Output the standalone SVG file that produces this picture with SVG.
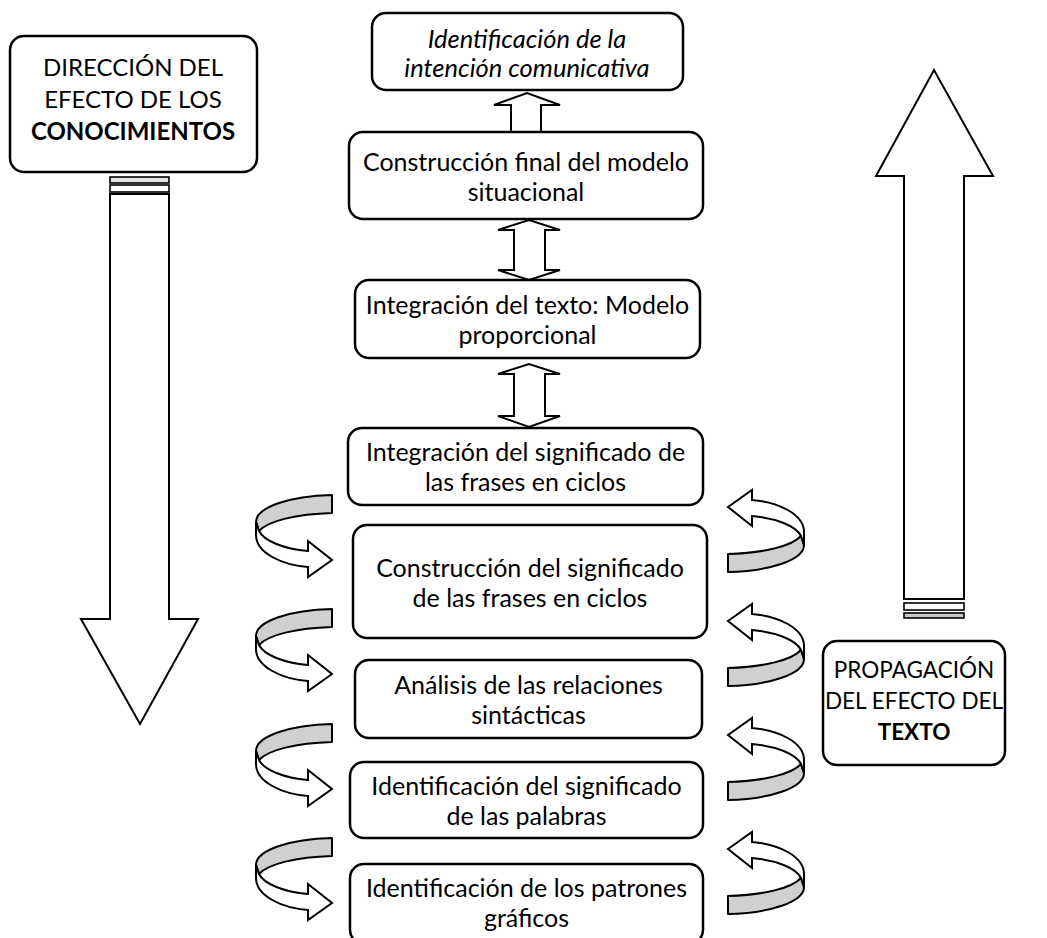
<svg xmlns="http://www.w3.org/2000/svg" width="1047" height="938" viewBox="0 0 1047 938">
<style>
.box{fill:#fff;stroke:#000;stroke-width:2.5}
.t{font-family:Lato,"Open Sans","Liberation Sans",sans-serif;font-size:25px;fill:#000;text-anchor:middle}
.big{font-size:24px}
.sm{font-size:22.5px}
.b{font-weight:bold}
.i{font-style:italic;font-size:25.5px}
.ar{fill:#fff;stroke:#000;stroke-width:2;stroke-linejoin:miter}
.st{fill:#fff;stroke:#000;stroke-width:1.6}
.gr{fill:#d0d0d0;stroke:#000;stroke-width:2;stroke-linejoin:round}
.wr{fill:#fff;stroke:#000;stroke-width:2;stroke-linejoin:miter}
</style>
<defs>
<g id="curl">
<path class="gr" d="M0,0 C-42,1 -76,12 -76,27 L-73,36 C-64,26 -36,19 0,18 Z"/>
<path class="wr" d="M-76,27 L-76,40 C-76,58 -50,70 -24,72 L-24,82 L0,65 L-24,46 L-24,56 C-48,54 -68,46 -73,36 Z"/>
</g>
</defs>
<rect width="1047" height="938" fill="#fff"/>

<g id="connectors">
<path class="ar" d="M511,132 L511,105 L494,105 L527,93 L560,105 L541,105 L541,132 Z"/>
<path class="ar" d="M514,230 L498,230 L529,220 L560,230 L545,230 L545,270 L560,270 L529,280 L498,270 L514,270 Z"/>
<path class="ar" d="M514,374 L498,374 L529,364 L560,374 L545,374 L545,416 L560,416 L529,427 L498,416 L514,416 Z"/>
<use href="#curl" transform="translate(332,495)"/>
<use href="#curl" transform="translate(332,609)"/>
<use href="#curl" transform="translate(332,724)"/>
<use href="#curl" transform="translate(332,838)"/>
<use href="#curl" transform="translate(728,572) rotate(180)"/>
<use href="#curl" transform="translate(728,686) rotate(180)"/>
<use href="#curl" transform="translate(728,800) rotate(180)"/>
<use href="#curl" transform="translate(728,914) rotate(180)"/>
</g>

<g id="direccion">
<rect class="box" x="10" y="36" width="247" height="136" rx="14"/>
<text class="t big" x="133" y="76">DIRECCIÓN DEL</text>
<text class="t big" x="133" y="108">EFECTO DE LOS</text>
<text class="t big b" x="133" y="140">CONOCIMIENTOS</text>
</g>
<g id="flecha-conocimientos">
<rect class="st" x="110" y="177" width="59" height="6" style="fill:#e4e4e4"/>
<rect class="st" x="110" y="185" width="59" height="7"/>
<path class="ar" d="M110,194 L169,194 L169,619 L198,619 L140,724 L81,619 L110,619 Z"/>
</g>

<g id="flecha-texto">
<path class="ar" d="M904,599 L904,176 L876,176 L934,70 L993,176 L964,176 L964,599 Z"/>
<rect class="st" x="904" y="603" width="60" height="7"/>
<rect class="st" x="904" y="613" width="60" height="5" style="fill:#c8c8c8"/>
</g>
<g id="propagacion">
<rect class="box" x="823" y="641" width="182" height="124" rx="14"/>
<text class="t sm" x="914" y="678">PROPAGACIÓN</text>
<text class="t sm" x="914" y="709">DEL EFECTO DEL</text>
<text class="t sm b" x="914" y="740">TEXTO</text>
</g>

<g id="n1">
<rect class="box" x="372" y="13" width="311" height="77" rx="14"/>
<text class="t i" x="527" y="48">Identificación de la</text>
<text class="t i" x="527" y="77">intención comunicativa</text>
</g>
<g id="n2">
<rect class="box" x="349" y="132" width="354" height="87" rx="14"/>
<text class="t" x="526" y="171">Construcción final del modelo</text>
<text class="t" x="526" y="201">situacional</text>
</g>
<g id="n3">
<rect class="box" x="355" y="280" width="345" height="78" rx="14"/>
<text class="t" x="527.5" y="314">Integración del texto: Modelo</text>
<text class="t" x="527.5" y="344">proporcional</text>
</g>
<g id="n4">
<rect class="box" x="348" y="428" width="355" height="77" rx="14"/>
<text class="t" x="525.5" y="461">Integración del significado de</text>
<text class="t" x="525.5" y="491">las frases en ciclos</text>
</g>
<g id="n5">
<rect class="box" x="353" y="525" width="354" height="113" rx="14"/>
<text class="t" x="530" y="577">Construcción del significado</text>
<text class="t" x="530" y="607">de las frases en ciclos</text>
</g>
<g id="n6">
<rect class="box" x="355" y="660" width="347" height="78" rx="14"/>
<text class="t" x="528.5" y="694">Análisis de las relaciones</text>
<text class="t" x="528.5" y="724">sintácticas</text>
</g>
<g id="n7">
<rect class="box" x="350" y="762" width="353" height="76" rx="14"/>
<text class="t" x="526.5" y="795">Identificación del significado</text>
<text class="t" x="526.5" y="825">de las palabras</text>
</g>
<g id="n8">
<rect class="box" x="350" y="864" width="353" height="80" rx="14"/>
<text class="t" x="526.5" y="897">Identificación de los patrones</text>
<text class="t" x="526.5" y="927">gráficos</text>
</g>
</svg>
